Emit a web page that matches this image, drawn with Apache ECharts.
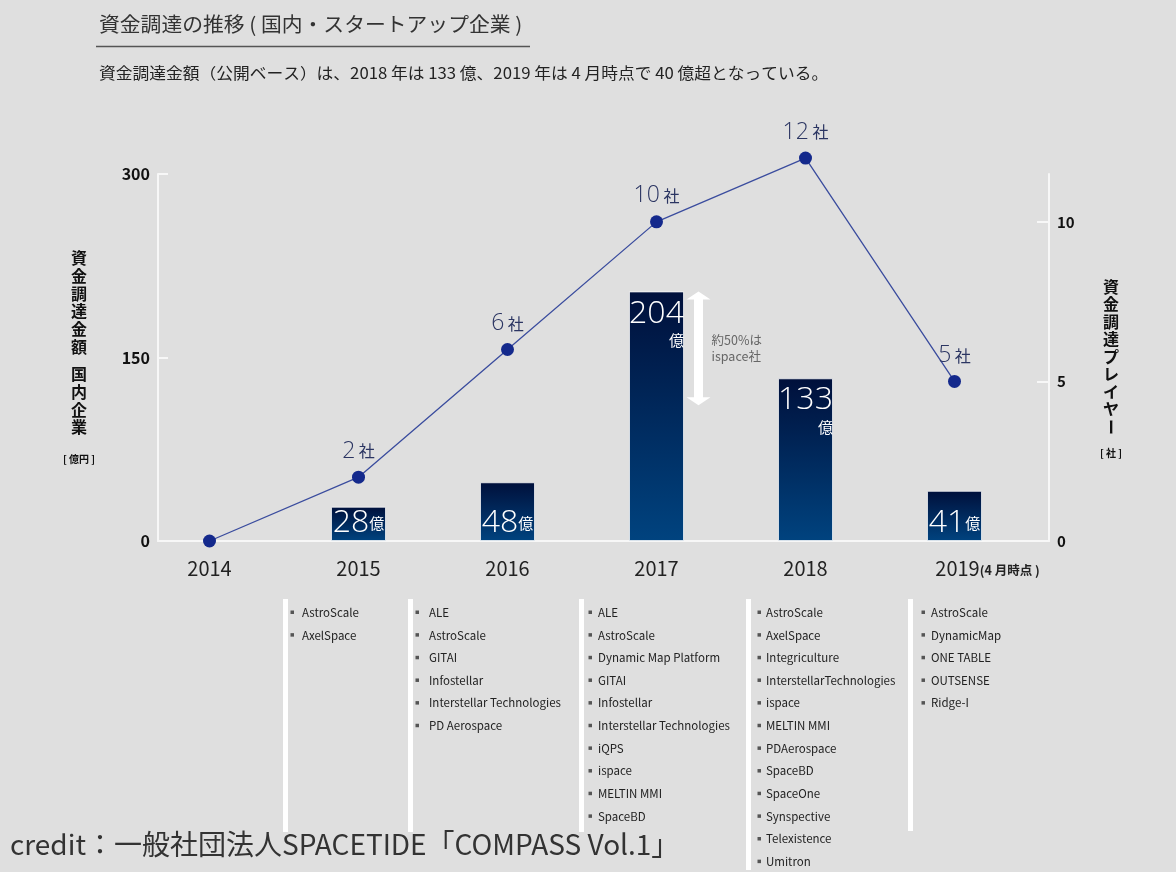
<!DOCTYPE html>
<html>
<head>
<meta charset="utf-8">
<script src="https://cdn.jsdelivr.net/npm/echarts@6/dist/echarts.min.js"></script>
<style>
html,body{margin:0;padding:0;background:#dfdfdf;}
#c{width:1176px;height:872px;}
</style>
</head>
<body>
<div id="c"></div>
<script>
// ---- data ----
var years = ['2014', '2015', '2016', '2017', '2018', '2019'];
var fundingOku = [null, 28, 48, 204, 133, 41];          // 資金調達金額 [億円]
var playerCount = [0, 2, 6, 10, 12, 5];                 // 資金調達プレイヤー [社]
var ispaceShare = ['2017', 204, 111];                   // 約50%は ispace社 (arrow range)
var leftTicks = [0, 150, 300];
var rightTicks = [0, 5, 10];
var companies2015 = ['AstroScale', 'AxelSpace'];
var companies2016 = ['ALE', 'AstroScale', 'GITAI', 'Infostellar', 'Interstellar Technologies', 'PD Aerospace'];
var companies2017 = ['ALE', 'AstroScale', 'Dynamic Map Platform', 'GITAI', 'Infostellar', 'Interstellar Technologies', 'iQPS', 'ispace', 'MELTIN MMI', 'SpaceBD'];
var companies2018 = ['AstroScale', 'AxelSpace', 'Integriculture', 'InterstellarTechnologies', 'ispace', 'MELTIN MMI', 'PDAerospace', 'SpaceBD', 'SpaceOne', 'Synspective', 'Telexistence', 'Umitron'];
var companies2019 = ['AstroScale', 'DynamicMap', 'ONE TABLE', 'OUTSENSE', 'Ridge-I'];

var FONT = '"Noto Sans CJK JP", "Noto Sans", sans-serif';
var LIGHT = '"Open Sans", "Noto Sans", sans-serif';
var chart = echarts.init(document.getElementById('c'), null, {renderer: 'canvas'});

var barData = fundingOku.map(function (v) {
  if (v == null) return null;
  if (v > 100) {
    return {value: v, label: {position: 'insideTop', distance: 4,
      formatter: function (p) { return '{n|' + p.value + '}\n{u|億}'; }}};
  }
  return {value: v, label: {position: 'insideBottom', distance: 0,
    formatter: function (p) { return '{n|' + p.value + '}{u|億}'; }}};
});

// company list graphics
var lists = [companies2015, companies2016, companies2017, companies2018, companies2019];
var listBarX = [283, 408, 579, 746, 908];
var listBarBottom = [832, 832, 832, 870, 831];
var bulletX = [292, 417, 590, 759, 923];
var textX = [302, 429, 598, 766, 931];
var graphics = [];
lists.forEach(function (lst, i) {
  graphics.push({type: 'rect', shape: {x: listBarX[i], y: 599, width: 5, height: listBarBottom[i] - 599},
    style: {fill: '#ffffff'}, z: 1});
  lst.forEach(function (name, j) {
    var y = 612.5 + j * 22.65;
    graphics.push({type: 'rect', shape: {x: bulletX[i] - 1.5, y: y - 2, width: 3.5, height: 3.5}, style: {fill: '#555'}, z: 2});
    graphics.push({type: 'text', x: textX[i], y: y, style: {text: name, fill: '#222', font: '11.5px ' + FONT, verticalAlign: 'middle'}, z: 2});
  });
});
// title / subtitle
graphics.push({type: 'text', x: 99, y: 24, scaleX: 1.04, style: {text: '資金調達の推移 ( 国内・スタートアップ企業 )', fill: '#333', font: '20px ' + FONT, verticalAlign: 'middle'}});
graphics.push({type: 'line', shape: {x1: 96, y1: 46.5, x2: 530, y2: 46.5}, style: {stroke: '#555', lineWidth: 1.5}});
graphics.push({type: 'text', x: 99, y: 73, scaleX: 1.08, style: {text: '資金調達金額（公開ベース）は、2018 年は 133 億、2019 年は 4 月時点で 40 億超となっている。', fill: '#222', font: '15.5px ' + FONT, verticalAlign: 'middle'}});
// axis names (vertical)
graphics.push({type: 'text', x: 79, y: 249, style: {text: '資\n金\n調\n達\n金\n額', fill: '#111', font: 'bold 16px ' + FONT, align: 'center', verticalAlign: 'top', lineHeight: 17.8}});
graphics.push({type: 'text', x: 79, y: 365, style: {text: '国\n内\n企\n業', fill: '#111', font: 'bold 16px ' + FONT, align: 'center', verticalAlign: 'top', lineHeight: 17.8}});
graphics.push({type: 'text', x: 79, y: 459, style: {text: '[ 億円 ]', fill: '#111', font: 'bold 10px ' + FONT, align: 'center', verticalAlign: 'middle'}});
graphics.push({type: 'text', x: 1111, y: 278, style: {text: '資\n金\n調\n達\nプ\nレ\nイ\nヤ', fill: '#111', font: 'bold 16px ' + FONT, align: 'center', verticalAlign: 'top', lineHeight: 17.5}});
graphics.push({type: 'text', x: 1111, y: 427, rotation: -Math.PI / 2, style: {text: 'ー', fill: '#111', font: 'bold 16px ' + FONT, align: 'center', verticalAlign: 'middle'}});
graphics.push({type: 'text', x: 1111, y: 453, style: {text: '[ 社 ]', fill: '#111', font: 'bold 10px ' + FONT, align: 'center', verticalAlign: 'middle'}});
// credit
graphics.push({type: 'text', x: 10, y: 844, z: 10, style: {text: 'credit：一般社団法人SPACETIDE「COMPASS Vol.1」', fill: '#333', font: '28px ' + FONT, verticalAlign: 'middle'}});

var option = {
  backgroundColor: '#dfdfdf',
  animation: false,
  grid: [
    {left: 135, right: 147, top: 174, bottom: 331, outerBoundsMode: 'none'},
    {left: 158, right: 127, top: 174, bottom: 331, outerBoundsMode: 'none'}
  ],
  xAxis: [
    {type: 'category', gridIndex: 0, data: years, boundaryGap: true,
      axisLine: {show: false}, axisTick: {show: false},
      axisLabel: {interval: 0, hideOverlap: false, margin: 17, fontSize: 20, color: '#222', fontFamily: FONT,
        formatter: function (v, i) {
          if (i === years.length - 1) return '{pad|}{y|' + v + '}{s|(4 月時点 )}';
          return '{y|' + v + '}';
        },
        rich: {
          pad: {width: 66},
          y: {fontSize: 20, color: '#222', fontFamily: FONT},
          s: {fontSize: 12.5, fontWeight: 'bold', color: '#222', fontFamily: FONT, padding: [4, 0, 0, 0]}
        }}},
    {type: 'category', gridIndex: 1, data: years, boundaryGap: true,
      axisLine: {show: true, lineStyle: {color: '#f7f7f7', width: 2}},
      axisTick: {show: false}, axisLabel: {show: false}}
  ],
  yAxis: [
    {type: 'value', gridIndex: 0, min: 0, max: 300, show: false},
    {type: 'value', gridIndex: 0, min: 0, max: 11.5, show: false, position: 'right'},
    {type: 'value', gridIndex: 1, min: 0, max: 300, interval: 150, position: 'left',
      axisLine: {show: true, lineStyle: {color: '#f7f7f7', width: 2}},
      axisTick: {show: true, inside: true, length: 10, lineStyle: {color: '#f7f7f7', width: 2}, customValues: leftTicks},
      axisLabel: {margin: 8, fontSize: 16, fontWeight: 'bold', color: '#111', fontFamily: FONT, customValues: leftTicks},
      splitLine: {show: false}},
    {type: 'value', gridIndex: 1, min: 0, max: 11.5, interval: 5, position: 'right',
      axisLine: {show: true, lineStyle: {color: '#f7f7f7', width: 2}},
      axisTick: {show: true, inside: true, length: 12, lineStyle: {color: '#f7f7f7', width: 2}, customValues: rightTicks},
      axisLabel: {margin: 8, fontSize: 15, fontWeight: 'bold', color: '#111', fontFamily: FONT, customValues: rightTicks},
      splitLine: {show: false}}
  ],
  series: [
    {type: 'bar', xAxisIndex: 0, yAxisIndex: 0, data: barData, barWidth: 55, z: 2,
      itemStyle: {
        color: new echarts.graphic.LinearGradient(0, 0, 0, 1, [
          {offset: 0, color: '#00103b'}, {offset: 1, color: '#00437f'}]),
        borderColor: 'rgba(255,255,255,0.7)', borderWidth: 1
      },
      label: {show: true, color: '#fff', fontFamily: FONT,
        rich: {
          n: {fontSize: 32, fontWeight: 300, color: '#fff', fontFamily: LIGHT, lineHeight: 36},
          u: {fontSize: 15, color: '#fff', fontFamily: FONT, align: 'right', lineHeight: 18}
        }}},
    {type: 'line', xAxisIndex: 0, yAxisIndex: 1, data: playerCount, clip: false, z: 4,
      symbol: 'circle', symbolSize: 13,
      itemStyle: {color: '#14298c'},
      lineStyle: {color: '#3a4c9e', width: 1.3},
      label: {show: true, position: 'top', distance: 8,
        formatter: function (p) { return p.value ? '{n|' + p.value + '}{u| 社}' : ''; },
        rich: {
          n: {fontSize: 23, fontWeight: 300, color: '#2b3562', fontFamily: LIGHT},
          u: {fontSize: 16, color: '#2b3562', fontFamily: FONT}
        }}},
    {type: 'custom', xAxisIndex: 0, yAxisIndex: 0, z: 5, data: [ispaceShare],
      encode: {x: 0, y: [1, 2]},
      renderItem: function (params, api) {
        var top = api.coord([api.value(0), api.value(1)]);
        var bot = api.coord([api.value(0), api.value(2)]);
        var x = top[0] + 42, y1 = top[1], y2 = bot[1];
        var sw = 4.5, hw = 12, hh = 8;
        return {type: 'group', children: [
          {type: 'polygon', shape: {points: [[x, y1], [x + hw, y1 + hh], [x + sw, y1 + hh], [x + sw, y2 - hh], [x + hw, y2 - hh], [x, y2], [x - hw, y2 - hh], [x - sw, y2 - hh], [x - sw, y1 + hh], [x - hw, y1 + hh]]},
            style: {fill: '#ffffff'}},
          {type: 'text', x: x + 13, y: (y1 + y2) / 2, style: {text: '約50%は\nispace社', fill: '#666', fontSize: 12.5, fontFamily: FONT, verticalAlign: 'middle', lineHeight: 16}}
        ]};
      }}
  ],
  graphic: {elements: graphics}
};
chart.setOption(option);
</script>
</body>
</html>
